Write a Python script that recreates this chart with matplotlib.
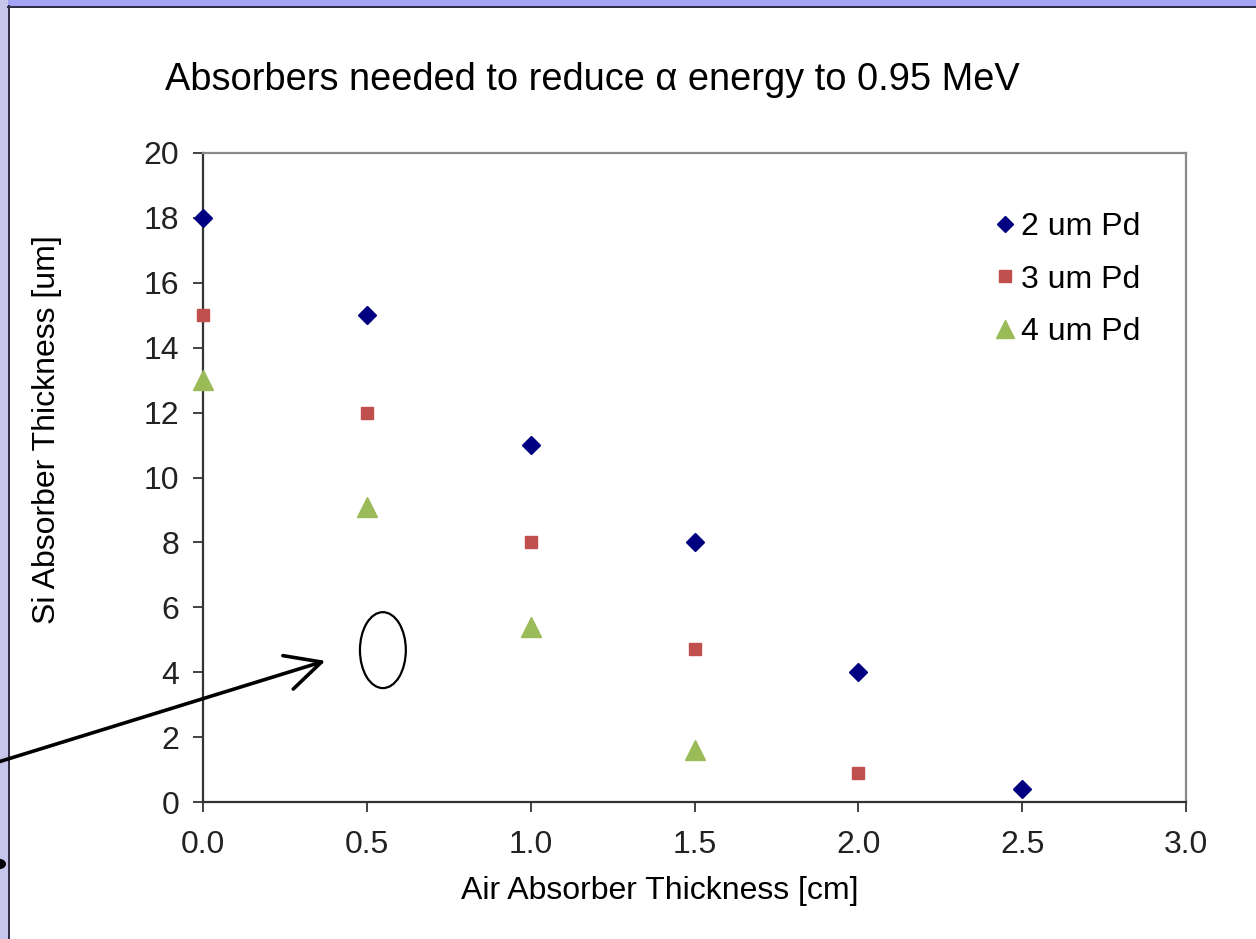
#!/usr/bin/env python3
"""Si / air absorber thickness needed to bring alpha energy down to 0.95 MeV"""

import matplotlib
matplotlib.use("Agg")
import matplotlib.pyplot as plt
from matplotlib.patches import Rectangle, Ellipse, FancyArrowPatch, Circle

plt.rcParams["font.family"] = ["Liberation Sans", "DejaVu Sans"]

# air thickness [cm] vs Si thickness [um], one series per Pd foil
AIR_2UM = [0.0, 0.5, 1.0, 1.5, 2.0, 2.5]
SI_2UM = [18.0, 15.0, 11.0, 8.0, 4.0, 0.4]
AIR_3UM = [0.0, 0.5, 1.0, 1.5, 2.0]
SI_3UM = [15.0, 12.0, 8.0, 4.7, 0.9]
AIR_4UM = [0.0, 0.5, 1.0, 1.5]
SI_4UM = [13.0, 9.1, 5.4, 1.6]

LABELS = ["2 um Pd", "3 um Pd", "4 um Pd"]
X_TICKS = [0.0, 0.5, 1.0, 1.5, 2.0, 2.5, 3.0]
Y_TICKS = list(range(0, 21, 2))

W, H = 1256, 939
FS = 23
fig = plt.figure(figsize=(W / 100, H / 100), dpi=100, facecolor="white")

# slide frame: lavender strips on top / left with a dark edge
fig.add_artist(Rectangle((0, 1 - 6 / H), 1, 6 / H, transform=fig.transFigure,
                         facecolor="#a4a4f6", edgecolor="none", zorder=0))
fig.add_artist(Rectangle((0, 0), 8 / W, 1, transform=fig.transFigure,
                         facecolor="#c6c6ea", edgecolor="none", zorder=0))
fig.add_artist(plt.Line2D([8.5 / W, 8.5 / W], [0, 1 - 6 / H], transform=fig.transFigure,
                          color="#2a2a40", lw=1.4, zorder=1))
fig.add_artist(plt.Line2D([8 / W, 1], [1 - 7 / H, 1 - 7 / H], transform=fig.transFigure,
                          color="#2a2a40", lw=1.4, zorder=1))

ax = fig.add_axes([203 / W, 1 - 802 / H, (1186 - 203) / W, (802 - 153) / H])

ax.plot(AIR_2UM, SI_2UM, ls="none", marker="D", ms=9, color="#000080",
        label=LABELS[0], clip_on=False, zorder=3)
ax.plot(AIR_3UM, SI_3UM, ls="none", marker="s", ms=9, color="#c0504d",
        label=LABELS[1], clip_on=False, zorder=3)
ax.plot(AIR_4UM, SI_4UM, ls="none", marker="^", ms=15, color="#9bbb59",
        label=LABELS[2], clip_on=False, zorder=3)

ax.set_xlim(0, 3)
ax.set_ylim(0, 20)
ax.set_xticks(X_TICKS)
ax.set_xticklabels([f"{v:.1f}" for v in X_TICKS])
ax.set_yticks(Y_TICKS)
ax.tick_params(direction="out", length=7, width=1.2, labelsize=FS, colors="#222222",
               pad=13)
ax.tick_params(axis="y", pad=10)
for side in ("left", "bottom"):
    ax.spines[side].set_color("#333333")
    ax.spines[side].set_linewidth(1.6)
for side in ("top", "right"):
    ax.spines[side].set_color("#8a8a8a")
    ax.spines[side].set_linewidth(1.6)

ax.set_xlabel("Air Absorber Thickness [cm]", fontsize=FS)
ax.set_ylabel("Si Absorber Thickness [um]", fontsize=FS)
ax.xaxis.set_label_coords(0.465, -0.114)
ax.yaxis.set_label_coords(-0.143, 0.573)

ax.legend(loc="upper left", bbox_to_anchor=(0.77, 0.953), frameon=False,
          fontsize=FS, handletextpad=0.0, labelspacing=0.7, markerscale=0.9,
          handlelength=1.0)

fig.text(592 / W, 1 - 90 / H, "Absorbers needed to reduce α energy to 0.95 MeV",
         ha="center", va="baseline", fontsize=27.4)

# highlighted region with pointer arrow
ax.add_patch(Ellipse((0.549, 4.68), 0.14, 2.34, fill=False, edgecolor="black",
                     lw=1.6, clip_on=False))
fig.add_artist(FancyArrowPatch((-5 / W, 1 - 763 / H), (328 / W, 1 - 660 / H),
                               transform=fig.transFigure,
                               arrowstyle="->,head_length=18,head_width=9",
                               color="black", lw=2.6, mutation_scale=1.4, zorder=5))
fig.add_artist(Circle((-1 / W, 1 - 864 / H), 7 / W, transform=fig.transFigure,
                      facecolor="black", edgecolor="none", zorder=5))

fig.savefig("out.png", dpi=100, facecolor=fig.get_facecolor())
